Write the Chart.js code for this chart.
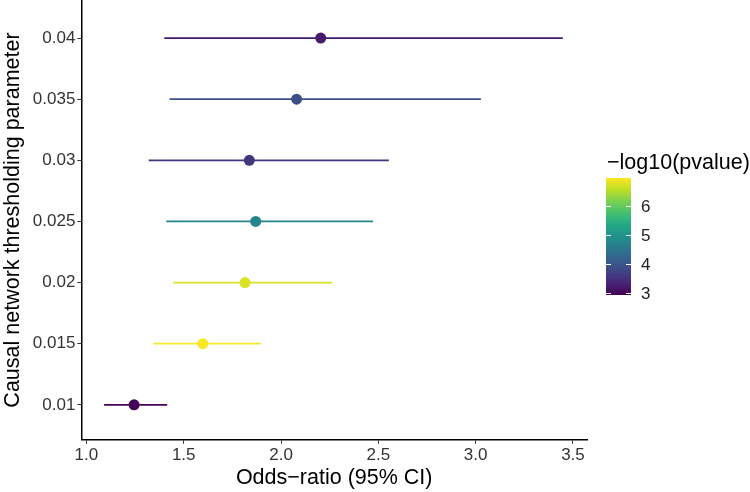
<!DOCTYPE html>
<html>
<head>
<meta charset="utf-8">
<script src="https://cdn.jsdelivr.net/npm/chart.js@4"></script>
<style>
html,body{margin:0;padding:0;background:#fff;overflow:hidden;}
#wrap{width:750px;height:492px;position:relative;overflow:hidden;}
#c{position:absolute;left:0;top:-12px;}
</style>
</head>
<body>
<div id="wrap"><canvas id="c" width="750" height="503"></canvas></div>
<script>
// ---- data ----
const thresholds = [0.01, 0.015, 0.02, 0.025, 0.03, 0.035, 0.04];
const oddsRatio  = [1.245, 1.598, 1.815, 1.870, 1.837, 2.080, 2.204];
const ciLower    = [1.091, 1.344, 1.446, 1.410, 1.320, 1.427, 1.400];
const ciUpper    = [1.415, 1.897, 2.263, 2.473, 2.554, 3.027, 3.448];
const negLogP    = [2.95, 6.95, 6.75, 4.75, 3.55, 3.90, 3.22];
const xTicks = [1.0, 1.5, 2.0, 2.5, 3.0, 3.5];
const yTicks = [0.01, 0.015, 0.02, 0.025, 0.03, 0.035, 0.04];
const legendTicks = [3, 4, 5, 6];
const pMin = 2.93, pMax = 6.97;

const OFF = 12; // canvas is shifted up by this many px
const FONT = '"Liberation Sans", Arial, sans-serif';
// viridis colormap
const VIR = ['#440154','#482475','#414487','#355f8d','#2a788e','#21918c','#22a884','#44bf70','#7ad151','#bddf26','#fde725'];
function hex(h){return [parseInt(h.slice(1,3),16),parseInt(h.slice(3,5),16),parseInt(h.slice(5,7),16)];}
function viridis(t){
  t=Math.max(0,Math.min(1,t));
  const s=t*(VIR.length-1); const i=Math.min(Math.floor(s),VIR.length-2); const f=s-i;
  const a=hex(VIR[i]), b=hex(VIR[i+1]);
  return 'rgb('+a.map((v,k)=>Math.round(v+(b[k]-v)*f)).join(',')+')';
}
const colorOf = v => viridis((v-pMin)/(pMax-pMin));

const datasets = [];
thresholds.forEach((y,i)=>{
  datasets.push({type:'line', data:[{x:ciLower[i],y:y},{x:ciUpper[i],y:y}],
    borderColor:colorOf(negLogP[i]), borderWidth:1.7, pointRadius:0, fill:false});
});
datasets.push({type:'scatter', data:thresholds.map((y,i)=>({x:oddsRatio[i],y:y})),
  pointRadius:5.5, pointBackgroundColor:negLogP.map(colorOf), pointBorderWidth:0, pointHoverRadius:5.5});

const colorbar = {
  id:'colorbar',
  afterDraw(chart){
    const ctx=chart.ctx;
    const x0=606, w=25, yTop=178+OFF, yBot=295+OFF;
    const valToY=v=> yBot - (v-pMin)/(pMax-pMin)*(yBot-yTop);
    const g=ctx.createLinearGradient(0,yBot,0,yTop);
    for(let k=0;k<=20;k++){g.addColorStop(k/20, viridis(k/20));}
    ctx.save();
    ctx.fillStyle=g; ctx.fillRect(x0,yTop,w,yBot-yTop);
    ctx.strokeStyle='#fff'; ctx.lineWidth=1.2;
    ctx.font='17px '+FONT;
    ctx.fillStyle='#222'; ctx.textBaseline='middle'; ctx.textAlign='left';
    legendTicks.forEach(v=>{
      const y=Math.round(valToY(v))+0.5;
      ctx.beginPath(); ctx.moveTo(x0,y); ctx.lineTo(x0+5,y); ctx.moveTo(x0+w-5,y); ctx.lineTo(x0+w,y); ctx.stroke();
      ctx.fillText(String(v), x0+w+10, y+1);
    });
    ctx.font='21.5px '+FONT;
    ctx.fillStyle='#000'; ctx.textBaseline='alphabetic';
    ctx.fillText('\u2212log10(pvalue)', x0+1, 169+OFF);
    ctx.restore();
  }
};

new Chart(document.getElementById('c'), {
  data:{datasets},
  options:{
    responsive:false, animation:false,
    layout:{padding:{left:0,right:163,top:0,bottom:0}},
    plugins:{legend:{display:false}, tooltip:{enabled:false}},
    scales:{
      x:{type:'linear', min:0.974, max:3.572,
        afterBuildTicks(s){s.ticks=xTicks.map(v=>({value:v}));},
        ticks:{callback:v=>v.toFixed(1), color:'#333', font:{family:FONT, size:17}, padding:1, maxRotation:0},
        grid:{display:true, drawOnChartArea:false, drawTicks:true, tickLength:4, color:'#333', lineWidth:1},
        border:{display:true, color:'#000', width:1.5},
        title:{display:true, text:'Odds\u2212ratio (95% CI)', color:'#000', font:{family:FONT, size:21.5}, padding:{top:-1,bottom:0}}
      },
      y:{type:'linear', min:0.00714, max:0.0431,
        afterBuildTicks(s){s.ticks=yTicks.map(v=>({value:v}));},
        ticks:{callback:v=>String(+v.toFixed(3)), color:'#333', font:{family:FONT, size:17}, padding:2},
        grid:{display:true, drawOnChartArea:false, drawTicks:true, tickLength:4, color:'#333', lineWidth:1},
        border:{display:true, color:'#000', width:1.5},
        title:{display:true, text:'Causal network thresholding parameter', color:'#000', font:{family:FONT, size:21.5}, padding:{top:0,bottom:5}}
      }
    }
  },
  plugins:[colorbar]
});
</script>
</body>
</html>
